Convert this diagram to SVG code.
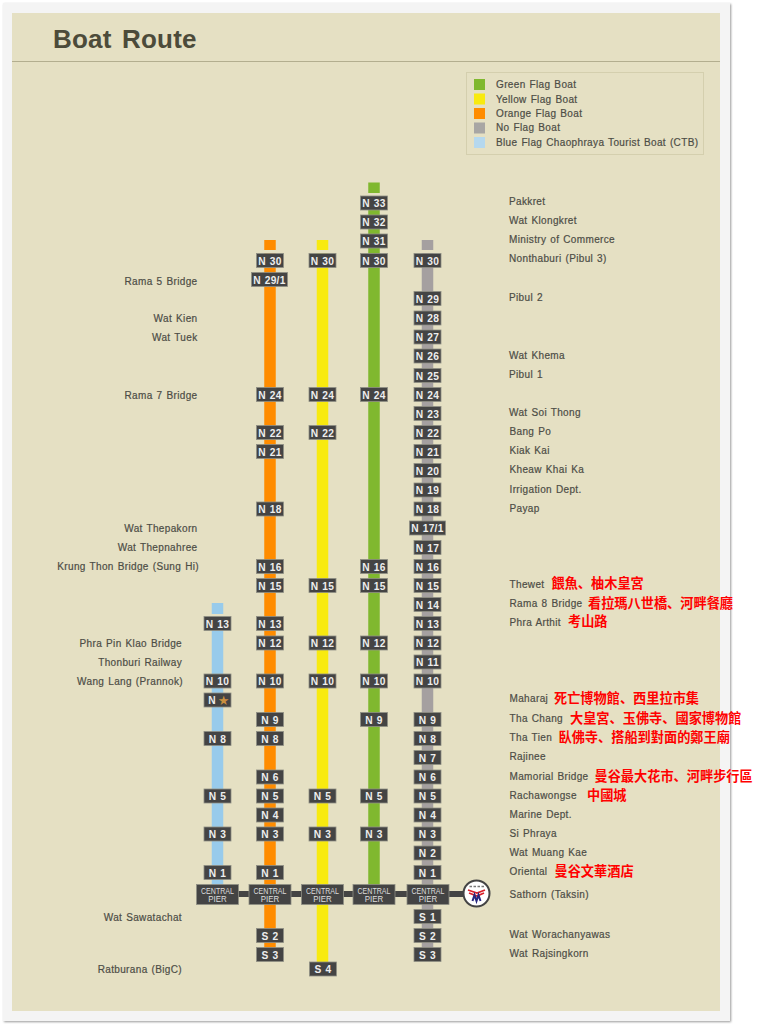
<svg xmlns="http://www.w3.org/2000/svg" width="769" height="1024" viewBox="0 0 769 1024">
<style>
.l{font:10px "Liberation Sans",Arial,sans-serif;letter-spacing:.36px;word-spacing:.8px;fill:#4d4d46;stroke:#4d4d46;stroke-width:.2}
.e{text-anchor:end}
.z{font:bold 13.2px "Noto Sans CJK SC",sans-serif;fill:#f00}
.b{fill:#444;stroke:#8f8f84;stroke-width:.8}
.s{font:bold 10.2px "Liberation Sans",Arial,sans-serif;letter-spacing:.3px;word-spacing:.6px;fill:#eee;text-anchor:middle}
.c{font:9px "Liberation Sans",Arial,sans-serif;fill:#ddd;text-anchor:middle}
</style>
<defs>
<g id="st"><rect class="b" x="-13.5" y="-7" width="27" height="14"/></g>
<g id="wd"><rect class="b" x="-18" y="-7" width="36" height="14"/></g>
<g id="cp"><rect class="b" x="-21" y="-10" width="42" height="20"/><text class="c" y="-1" textLength="33" lengthAdjust="spacingAndGlyphs">CENTRAL</text><text class="c" y="7.500" textLength="18.500" lengthAdjust="spacingAndGlyphs">PIER</text></g>
<filter id="sh" x="-5%" y="-5%" width="110%" height="110%"><feGaussianBlur stdDeviation="1.2"/></filter>
</defs>
<rect x="4" y="4" width="727" height="1018" fill="#999" filter="url(#sh)"/>
<rect x="3" y="3" width="727" height="1018" fill="#f4f4f4"/>
<rect x="12" y="13" width="708" height="998" fill="#e5e0c3"/>
<path d="M12 61.500H720" stroke="#b3ae8f" stroke-width="1.200"/>
<text x="53" y="47.500" font-family="Liberation Sans,Arial,sans-serif" font-size="26" font-weight="bold" fill="#4c4b3a" word-spacing="3" letter-spacing=".2">Boat Route</text>
<g id="legend">
<rect x="466.500" y="72.500" width="237" height="82" fill="none" stroke="#d4cfae"/>
<rect x="474" y="79" width="11" height="11" fill="#80b82f"/><text class="l" x="496" y="88">Green Flag Boat</text>
<rect x="474" y="93.500" width="11" height="11" fill="#f8ea0f"/><text class="l" x="496" y="102.500">Yellow Flag Boat</text>
<rect x="474" y="108" width="11" height="11" fill="#ff8c00"/><text class="l" x="496" y="117">Orange Flag Boat</text>
<rect x="474" y="122.500" width="11" height="11" fill="#a8a6a4"/><text class="l" x="496" y="131">No Flag Boat</text>
<rect x="474" y="137" width="11" height="11" fill="#b5d8ee"/><text class="l" x="496" y="145.500">Blue Flag Chaophraya Tourist Boat (CTB)</text>
</g>
<g id="connectors">
<path d="M217 894H470" stroke="#444" stroke-width="6"/>
<g stroke-width="11.500" fill="none">
<path d="M217.500 603V614M217.500 623V885" stroke="#98cbeb"/>
<path d="M270 240V250M270 253V948" stroke="#ff8c00"/>
<path d="M322.500 240V250M322.500 253V962" stroke="#f8ea0f"/>
<path d="M374 182.500V193M374 196V885" stroke="#80b82f"/>
<path d="M427.500 240V250M427.500 253V948" stroke="#a5a0a0"/>
</g>
</g>
<g id="blue-line">
<g id="b-n13"><use href="#st" x="217.500" y="623.500"/><text class="s" x="217.500" y="627.500">N 13</text></g>
<g id="b-n10"><use href="#st" x="217.500" y="681"/><text class="s" x="217.500" y="685">N 10</text></g>
<g id="b-star"><use href="#st" x="217.500" y="700"/><text class="s" x="212" y="704">N</text><text x="223.500" y="704.500" font-family="DejaVu Sans,sans-serif" font-size="13" fill="#c98f3f" text-anchor="middle">★</text></g>
<g id="b-n8"><use href="#st" x="217.500" y="738.500"/><text class="s" x="217.500" y="742.500">N 8</text></g>
<g id="b-n5"><use href="#st" x="217.500" y="796"/><text class="s" x="217.500" y="800">N 5</text></g>
<g id="b-n3"><use href="#st" x="217.500" y="834"/><text class="s" x="217.500" y="838">N 3</text></g>
<g id="b-n1"><use href="#st" x="217.500" y="872.500"/><text class="s" x="217.500" y="876.500">N 1</text></g>
<g id="b-central"><use href="#cp" x="217.500" y="894.500"/></g>
</g>
<g id="orange-line">
<g id="o-n30"><use href="#st" x="270" y="260.500"/><text class="s" x="270" y="264.500">N 30</text></g>
<g id="o-n29-1"><use href="#wd" x="269.500" y="279.500"/><text class="s" x="269.500" y="283.500">N 29/1</text></g>
<g id="o-n24"><use href="#st" x="270" y="394.500"/><text class="s" x="270" y="398.500">N 24</text></g>
<g id="o-n22"><use href="#st" x="270" y="432.500"/><text class="s" x="270" y="436.500">N 22</text></g>
<g id="o-n21"><use href="#st" x="270" y="451.500"/><text class="s" x="270" y="455.500">N 21</text></g>
<g id="o-n18"><use href="#st" x="270" y="509"/><text class="s" x="270" y="513">N 18</text></g>
<g id="o-n16"><use href="#st" x="270" y="566.500"/><text class="s" x="270" y="570.500">N 16</text></g>
<g id="o-n15"><use href="#st" x="270" y="585.500"/><text class="s" x="270" y="589.500">N 15</text></g>
<g id="o-n13"><use href="#st" x="270" y="623.500"/><text class="s" x="270" y="627.500">N 13</text></g>
<g id="o-n12"><use href="#st" x="270" y="643"/><text class="s" x="270" y="647">N 12</text></g>
<g id="o-n10"><use href="#st" x="270" y="681"/><text class="s" x="270" y="685">N 10</text></g>
<g id="o-n9"><use href="#st" x="270" y="719.500"/><text class="s" x="270" y="723.500">N 9</text></g>
<g id="o-n8"><use href="#st" x="270" y="738.500"/><text class="s" x="270" y="742.500">N 8</text></g>
<g id="o-n6"><use href="#st" x="270" y="777"/><text class="s" x="270" y="781">N 6</text></g>
<g id="o-n5"><use href="#st" x="270" y="796"/><text class="s" x="270" y="800">N 5</text></g>
<g id="o-n4"><use href="#st" x="270" y="815"/><text class="s" x="270" y="819">N 4</text></g>
<g id="o-n3"><use href="#st" x="270" y="834"/><text class="s" x="270" y="838">N 3</text></g>
<g id="o-n1"><use href="#st" x="270" y="872.500"/><text class="s" x="270" y="876.500">N 1</text></g>
<g id="o-central"><use href="#cp" x="270" y="894.500"/></g>
<g id="o-s2"><use href="#st" x="270" y="935.500"/><text class="s" x="270" y="939.500">S 2</text></g>
<g id="o-s3"><use href="#st" x="270" y="954.500"/><text class="s" x="270" y="958.500">S 3</text></g>
</g>
<g id="yellow-line">
<g id="y-n30"><use href="#st" x="322.500" y="260.500"/><text class="s" x="322.500" y="264.500">N 30</text></g>
<g id="y-n24"><use href="#st" x="322.500" y="394.500"/><text class="s" x="322.500" y="398.500">N 24</text></g>
<g id="y-n22"><use href="#st" x="322.500" y="432.500"/><text class="s" x="322.500" y="436.500">N 22</text></g>
<g id="y-n15"><use href="#st" x="322.500" y="585.500"/><text class="s" x="322.500" y="589.500">N 15</text></g>
<g id="y-n12"><use href="#st" x="322.500" y="643"/><text class="s" x="322.500" y="647">N 12</text></g>
<g id="y-n10"><use href="#st" x="322.500" y="681"/><text class="s" x="322.500" y="685">N 10</text></g>
<g id="y-n5"><use href="#st" x="322.500" y="796"/><text class="s" x="322.500" y="800">N 5</text></g>
<g id="y-n3"><use href="#st" x="322.500" y="834"/><text class="s" x="322.500" y="838">N 3</text></g>
<g id="y-central"><use href="#cp" x="322.500" y="894.500"/></g>
<g id="y-s4"><use href="#st" x="323" y="969"/><text class="s" x="323" y="973">S 4</text></g>
</g>
<g id="green-line">
<g id="g-n33"><use href="#st" x="374" y="203"/><text class="s" x="374" y="207">N 33</text></g>
<g id="g-n32"><use href="#st" x="374" y="222"/><text class="s" x="374" y="226">N 32</text></g>
<g id="g-n31"><use href="#st" x="374" y="241"/><text class="s" x="374" y="245">N 31</text></g>
<g id="g-n30"><use href="#st" x="374" y="260.500"/><text class="s" x="374" y="264.500">N 30</text></g>
<g id="g-n24"><use href="#st" x="374" y="394.500"/><text class="s" x="374" y="398.500">N 24</text></g>
<g id="g-n16"><use href="#st" x="374" y="566.500"/><text class="s" x="374" y="570.500">N 16</text></g>
<g id="g-n15"><use href="#st" x="374" y="585.500"/><text class="s" x="374" y="589.500">N 15</text></g>
<g id="g-n12"><use href="#st" x="374" y="643"/><text class="s" x="374" y="647">N 12</text></g>
<g id="g-n10"><use href="#st" x="374" y="681"/><text class="s" x="374" y="685">N 10</text></g>
<g id="g-n9"><use href="#st" x="374" y="719.500"/><text class="s" x="374" y="723.500">N 9</text></g>
<g id="g-n5"><use href="#st" x="374" y="796"/><text class="s" x="374" y="800">N 5</text></g>
<g id="g-n3"><use href="#st" x="374" y="834"/><text class="s" x="374" y="838">N 3</text></g>
<g id="g-central"><use href="#cp" x="374" y="894.500"/></g>
</g>
<g id="gray-line">
<g id="n-n30"><use href="#st" x="427.500" y="260.500"/><text class="s" x="427.500" y="264.500">N 30</text></g>
<g id="n-n29"><use href="#st" x="427.500" y="298.500"/><text class="s" x="427.500" y="302.500">N 29</text></g>
<g id="n-n28"><use href="#st" x="427.500" y="318"/><text class="s" x="427.500" y="322">N 28</text></g>
<g id="n-n27"><use href="#st" x="427.500" y="337"/><text class="s" x="427.500" y="341">N 27</text></g>
<g id="n-n26"><use href="#st" x="427.500" y="356"/><text class="s" x="427.500" y="360">N 26</text></g>
<g id="n-n25"><use href="#st" x="427.500" y="375.500"/><text class="s" x="427.500" y="379.500">N 25</text></g>
<g id="n-n24"><use href="#st" x="427.500" y="394.500"/><text class="s" x="427.500" y="398.500">N 24</text></g>
<g id="n-n23"><use href="#st" x="427.500" y="413.500"/><text class="s" x="427.500" y="417.500">N 23</text></g>
<g id="n-n22"><use href="#st" x="427.500" y="432.500"/><text class="s" x="427.500" y="436.500">N 22</text></g>
<g id="n-n21"><use href="#st" x="427.500" y="451.500"/><text class="s" x="427.500" y="455.500">N 21</text></g>
<g id="n-n20"><use href="#st" x="427.500" y="470.500"/><text class="s" x="427.500" y="474.500">N 20</text></g>
<g id="n-n19"><use href="#st" x="427.500" y="490"/><text class="s" x="427.500" y="494">N 19</text></g>
<g id="n-n18"><use href="#st" x="427.500" y="509"/><text class="s" x="427.500" y="513">N 18</text></g>
<g id="n-n17-1"><use href="#wd" x="427.500" y="528"/><text class="s" x="427.500" y="532">N 17/1</text></g>
<g id="n-n17"><use href="#st" x="427.500" y="547.500"/><text class="s" x="427.500" y="551.500">N 17</text></g>
<g id="n-n16"><use href="#st" x="427.500" y="566.500"/><text class="s" x="427.500" y="570.500">N 16</text></g>
<g id="n-n15"><use href="#st" x="427.500" y="585.500"/><text class="s" x="427.500" y="589.500">N 15</text></g>
<g id="n-n14"><use href="#st" x="427.500" y="604.500"/><text class="s" x="427.500" y="608.500">N 14</text></g>
<g id="n-n13"><use href="#st" x="427.500" y="623.500"/><text class="s" x="427.500" y="627.500">N 13</text></g>
<g id="n-n12"><use href="#st" x="427.500" y="643"/><text class="s" x="427.500" y="647">N 12</text></g>
<g id="n-n11"><use href="#st" x="427.500" y="662"/><text class="s" x="427.500" y="666">N 11</text></g>
<g id="n-n10"><use href="#st" x="427.500" y="681"/><text class="s" x="427.500" y="685">N 10</text></g>
<g id="n-n9"><use href="#st" x="427.500" y="719.500"/><text class="s" x="427.500" y="723.500">N 9</text></g>
<g id="n-n8"><use href="#st" x="427.500" y="738.500"/><text class="s" x="427.500" y="742.500">N 8</text></g>
<g id="n-n7"><use href="#st" x="427.500" y="757.500"/><text class="s" x="427.500" y="761.500">N 7</text></g>
<g id="n-n6"><use href="#st" x="427.500" y="777"/><text class="s" x="427.500" y="781">N 6</text></g>
<g id="n-n5"><use href="#st" x="427.500" y="796"/><text class="s" x="427.500" y="800">N 5</text></g>
<g id="n-n4"><use href="#st" x="427.500" y="815"/><text class="s" x="427.500" y="819">N 4</text></g>
<g id="n-n3"><use href="#st" x="427.500" y="834"/><text class="s" x="427.500" y="838">N 3</text></g>
<g id="n-n2"><use href="#st" x="427.500" y="853"/><text class="s" x="427.500" y="857">N 2</text></g>
<g id="n-n1"><use href="#st" x="427.500" y="872.500"/><text class="s" x="427.500" y="876.500">N 1</text></g>
<g id="n-central"><use href="#cp" x="428" y="894.500"/></g>
<g id="n-s1"><use href="#st" x="427.500" y="916.500"/><text class="s" x="427.500" y="920.500">S 1</text></g>
<g id="n-s2"><use href="#st" x="427.500" y="935.500"/><text class="s" x="427.500" y="939.500">S 2</text></g>
<g id="n-s3"><use href="#st" x="427.500" y="954.500"/><text class="s" x="427.500" y="958.500">S 3</text></g>
</g>
<g id="logo">
<circle cx="476.500" cy="893.500" r="13" fill="#fff" stroke="#444" stroke-width="2"/>
<path d="M469.500 886.500H484" stroke="#777" stroke-width="1.500" stroke-dasharray="2.500 1.500"/>
<path d="M468 890L477 893L485 890M469 893L477 896L484 893" fill="none" stroke="#d8202a" stroke-width="1.800"/>
<path d="M472.500 901L474.500 895L476.500 901L478.500 895L480.500 901" fill="none" stroke="#27287f" stroke-width="2"/>
</g>
<g id="labels-left">
<text class="l e" x="197.500" y="284.500">Rama 5 Bridge</text>
<text class="l e" x="197.500" y="321.500">Wat Kien</text>
<text class="l e" x="197.500" y="340.500">Wat Tuek</text>
<text class="l e" x="197.500" y="398.500">Rama 7 Bridge</text>
<text class="l e" x="197.500" y="531.500">Wat Thepakorn</text>
<text class="l e" x="197.500" y="551">Wat Thepnahree</text>
<text class="l e" x="199" y="570">Krung Thon Bridge (Sung Hi)</text>
<text class="l e" x="182" y="646.500">Phra Pin Klao Bridge</text>
<text class="l e" x="182" y="665.500">Thonburi Railway</text>
<text class="l e" x="183" y="684.500">Wang Lang (Prannok)</text>
<text class="l e" x="182" y="920.500">Wat Sawatachat</text>
<text class="l e" x="182" y="972.500">Ratburana (BigC)</text>
</g>
<g id="labels-right">
<text class="l" x="509" y="204.500">Pakkret</text>
<text class="l" x="509" y="223.500">Wat Klongkret</text>
<text class="l" x="509" y="242.500">Ministry of Commerce</text>
<text class="l" x="509" y="262">Nonthaburi (Pibul 3)</text>
<text class="l" x="509" y="301">Pibul 2</text>
<text class="l" x="509" y="358.500">Wat Khema</text>
<text class="l" x="509" y="378">Pibul 1</text>
<text class="l" x="509" y="416">Wat Soi Thong</text>
<text class="l" x="509.500" y="435">Bang Po</text>
<text class="l" x="509.500" y="454">Kiak Kai</text>
<text class="l" x="509.500" y="473">Kheaw Khai Ka</text>
<text class="l" x="509.500" y="492.500">Irrigation Dept.</text>
<text class="l" x="509.500" y="511.500">Payap</text>
<text class="l" x="509.500" y="588">Thewet</text>
<text class="l" x="509.500" y="607">Rama 8 Bridge</text>
<text class="l" x="509.500" y="626">Phra Arthit</text>
<text class="l" x="509.500" y="702">Maharaj</text>
<text class="l" x="509.500" y="722">Tha Chang</text>
<text class="l" x="509.500" y="741">Tha Tien</text>
<text class="l" x="509.500" y="760">Rajinee</text>
<text class="l" x="509.500" y="779.500">Mamorial Bridge</text>
<text class="l" x="509.500" y="798.500">Rachawongse</text>
<text class="l" x="509.500" y="817.500">Marine Dept.</text>
<text class="l" x="509.500" y="836.500">Si Phraya</text>
<text class="l" x="509.500" y="856">Wat Muang Kae</text>
<text class="l" x="509.500" y="875">Oriental</text>
<text class="l" x="509.500" y="897.500">Sathorn (Taksin)</text>
<text class="l" x="509.500" y="938">Wat Worachanyawas</text>
<text class="l" x="509.500" y="957">Wat Rajsingkorn</text>
</g>
<g id="notes">
<text class="z" x="551.500" y="587.500">餵魚、柚木皇宮</text>
<text class="z" x="588" y="608">看拉瑪八世橋、河畔餐廳</text>
<text class="z" x="568" y="626">考山路</text>
<text class="z" x="554" y="703">死亡博物館、西里拉市集</text>
<text class="z" x="570" y="723">大皇宮、玉佛寺、國家博物館</text>
<text class="z" x="558.500" y="742">臥佛寺、搭船到對面的鄭王廟</text>
<text class="z" x="594.500" y="780.500">曼谷最大花市、河畔步行區</text>
<text class="z" x="587" y="800">中國城</text>
<text class="z" x="554.500" y="875.500">曼谷文華酒店</text>
</g>
</svg>
